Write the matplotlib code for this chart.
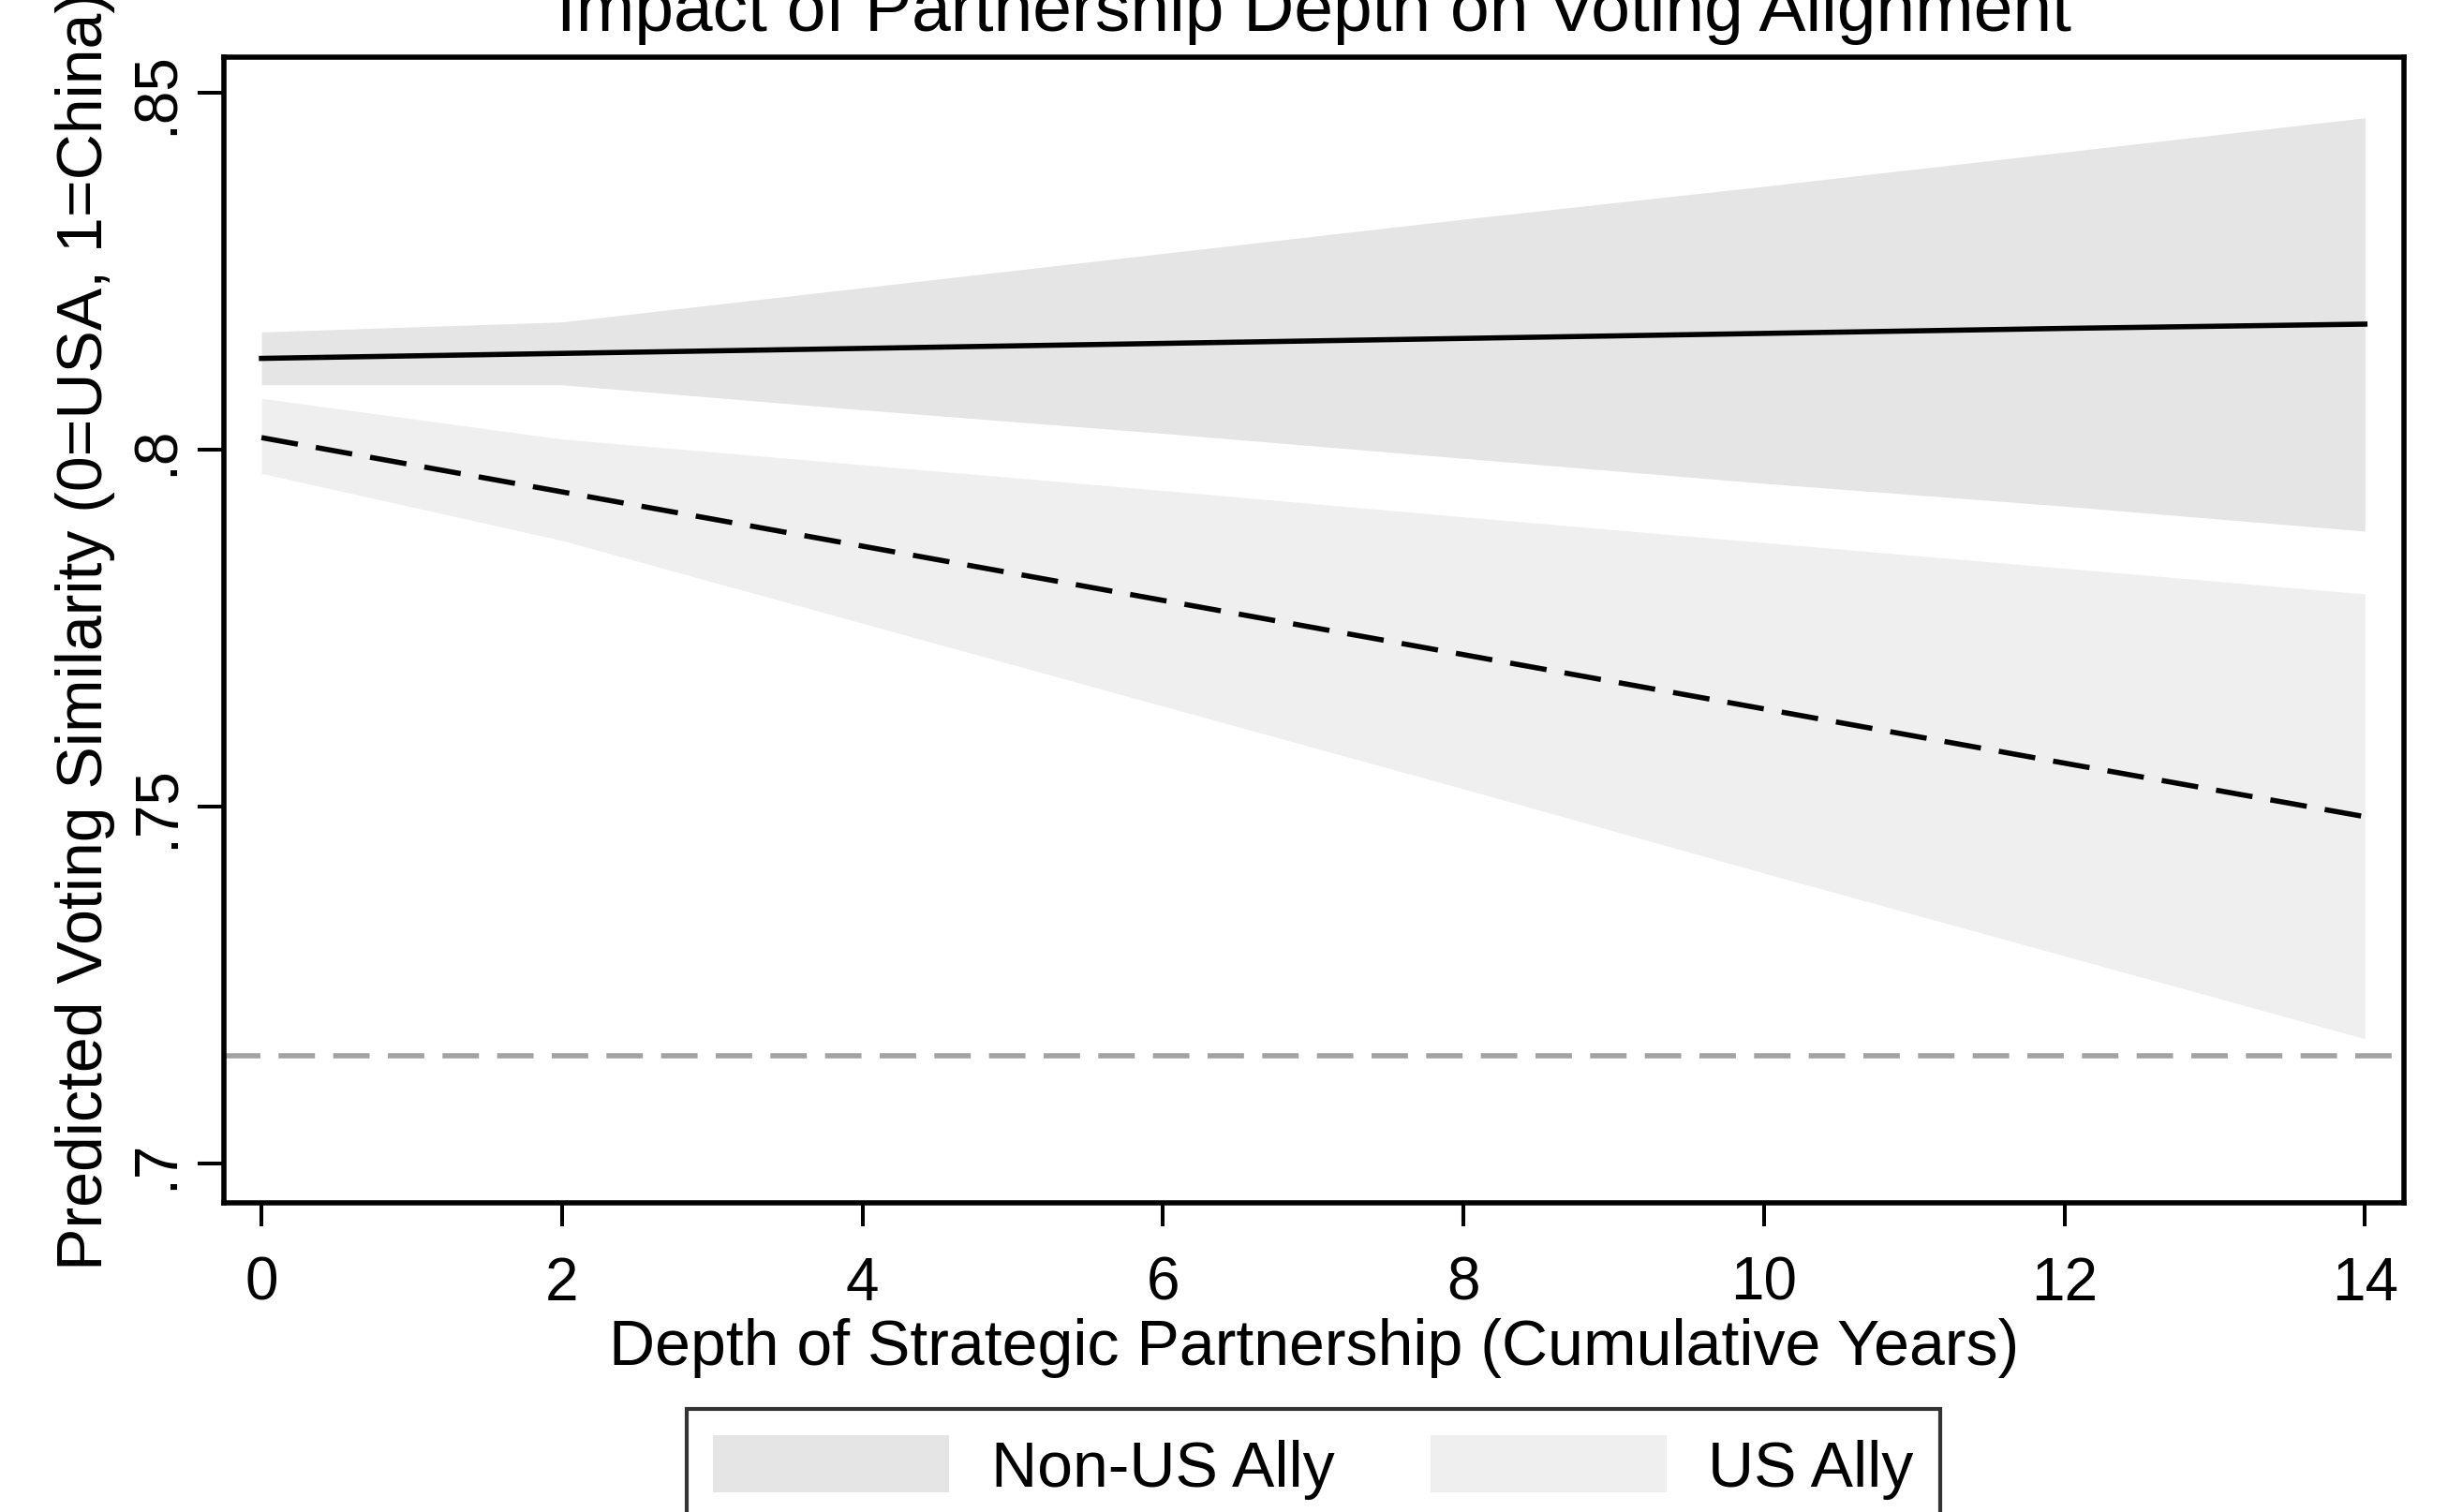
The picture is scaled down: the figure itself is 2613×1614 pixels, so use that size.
import matplotlib
matplotlib.use("Agg")
import matplotlib.pyplot as plt
from matplotlib.patches import Patch

plt.rcParams['font.family'] = ['Liberation Sans', 'DejaVu Sans']

# ---- data ----
depth = [0, 2, 4, 6, 8, 10, 12, 14]
nonus_mean = [0.8128, 0.8135, 0.8142, 0.8149, 0.8156, 0.8163, 0.8170, 0.8176]
nonus_low = [0.8091, 0.8091, 0.8056, 0.8023, 0.7988, 0.7953, 0.7921, 0.7886]
nonus_high = [0.8165, 0.8179, 0.8227, 0.8275, 0.8323, 0.8369, 0.8417, 0.8465]
us_mean = [0.8017, 0.7941, 0.7865, 0.7789, 0.7713, 0.7637, 0.7561, 0.7486]
us_low = [0.7967, 0.7873, 0.7757, 0.7641, 0.7525, 0.7407, 0.7291, 0.7175]
us_high = [0.8072, 0.8015, 0.7979, 0.7943, 0.7906, 0.7870, 0.7834, 0.7798]
ref_value = 0.7151
x_ticks = [0, 2, 4, 6, 8, 10, 12, 14]
y_ticks = [0.70, 0.75, 0.80, 0.85]
y_ticklabels = ['.7', '.75', '.8', '.85']
legend_labels = ['Non-US Ally', 'US Ally']
title = 'Impact of Partnership Depth on Voting Alignment'
xlabel = 'Depth of Strategic Partnership (Cumulative Years)'
ylabel = 'Predicted Voting Similarity (0=USA, 1=China)'

W, H = 2613, 1615
fig = plt.figure(figsize=(W / 100, H / 100), dpi=100)
ax = fig.add_axes([239 / W, 1 - 1285 / H, (2566 - 239) / W, (1285 - 62) / H])

c_nonus = '#e5e5e5'
c_us = '#efefef'
ax.fill_between(depth, nonus_low, nonus_high, color=c_nonus, lw=0, zorder=1)
ax.fill_between(depth, us_low, us_high, color=c_us, lw=0, zorder=1)
ax.plot(depth, nonus_mean, color='black', lw=4.0, zorder=3)
ax.plot(depth, us_mean, color='black', lw=4.0, dashes=(7.1, 3.5), zorder=3)
ax.axhline(ref_value, color='#a2a2a2', lw=4.0, dashes=(7.0, 3.5), zorder=2)

ax.set_xlim(-0.25, 14.26)
ax.set_ylim(0.6945, 0.855)
ax.set_xticks(x_ticks)
ax.set_xticklabels([str(v) for v in x_ticks])
ax.set_yticks(y_ticks)
ax.set_yticklabels(y_ticklabels, rotation=90, va='center')

fs_tick = 46
fs_lab = 49
ax.tick_params(axis='both', direction='out', width=2.9, labelsize=fs_tick, color='black')
ax.tick_params(axis='x', length=18, pad=22)
ax.tick_params(axis='y', length=20, pad=10)
for s in ax.spines.values():
    s.set_linewidth(4.0)
    s.set_color('black')

ax.set_xlabel(xlabel, fontsize=fs_lab, labelpad=5)
ax.set_ylabel(ylabel, fontsize=fs_lab, labelpad=10)

fig.text(1402 / W, 1 - 33 / H, title, fontsize=54, ha='center', va='baseline')

handles = [Patch(facecolor=c_nonus, edgecolor='none'), Patch(facecolor=c_us, edgecolor='none')]
leg = fig.legend(handles, legend_labels, loc='upper center', bbox_to_anchor=(1402 / W, 1 - 1505 / H),
                 ncol=2, fontsize=fs_lab, frameon=True, fancybox=False, edgecolor='black',
                 handlelength=3.7, handleheight=1.0, handletextpad=0.66, columnspacing=1.5,
                 borderpad=0.41, borderaxespad=0)
leg.get_frame().set_linewidth(3.0)

fig.savefig('out.png', dpi=100)
